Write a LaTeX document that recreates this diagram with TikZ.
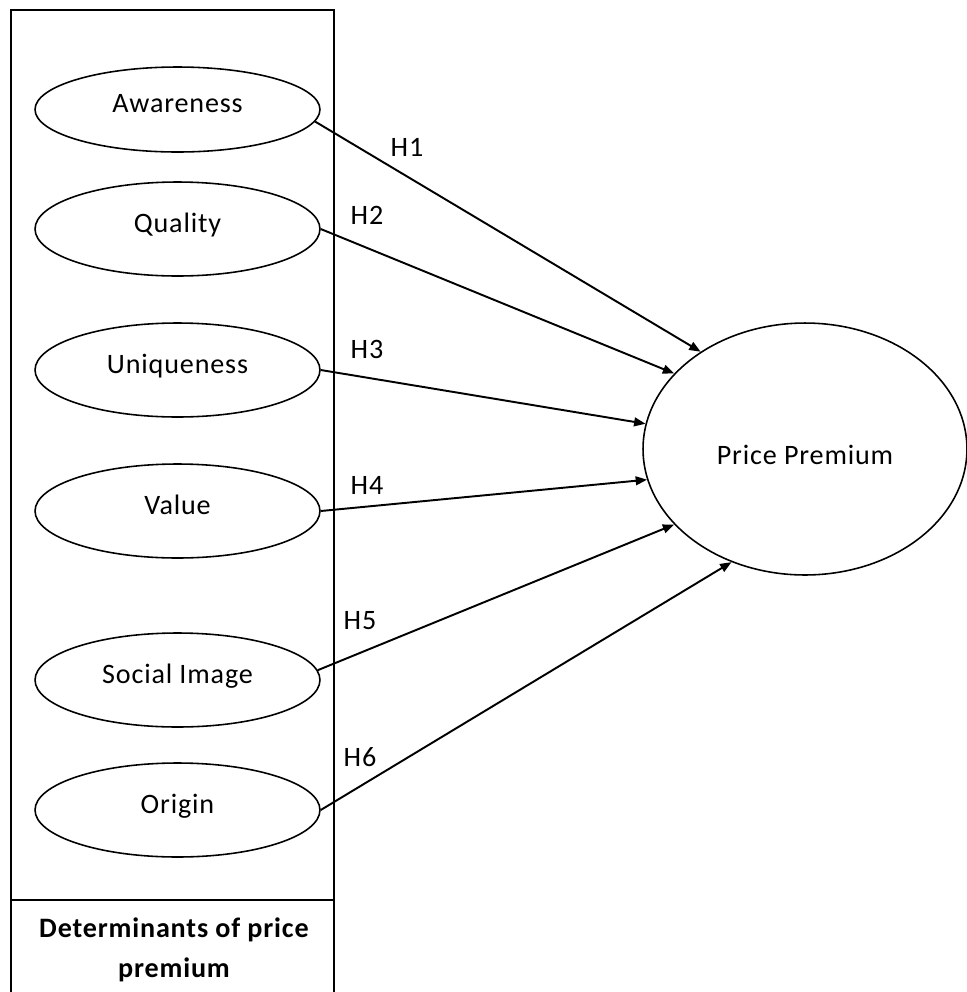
\documentclass[tikz,border=0pt]{standalone}
\usepackage{fontspec}
\setmainfont{Carlito}[LetterSpace=3]
\usetikzlibrary{arrows.meta, positioning, shapes.geometric}
\tikzset{
    factorNode/.style={draw, ellipse, line width=0.9pt, inner sep=0pt,
        minimum width=5.7cm, minimum height=1.88cm,
        text height=0.3cm, text depth=0.18cm},
    outcomeNode/.style={draw, ellipse, line width=0.9pt, inner sep=0pt,
        minimum width=6.48cm, minimum height=5.04cm,
        text height=0.6cm, text depth=0cm},
    pathArrow/.style={line width=1.1pt, -{Triangle[length=6.5pt, width=5pt]}},
    hypLabel/.style={inner sep=0pt},
    boxLine/.style={line width=1.1pt},
}

\begin{document}
\begin{tikzpicture}[x=0.02cm, y=-0.02cm, font=\fontsize{16}{23}\selectfont]
    \useasboundingbox (0,0) rectangle (967,992);

    % DETERMINANTS BOX
    \draw[boxLine] (11,992) -- (11,10) -- (334,10) -- (334,992);
    \draw[boxLine] (11,900) -- (334,900);
    \node[align=center, font=\fontsize{16}{23}\selectfont\bfseries] (boxTitle) at (174,950)
        {Determinants of price\\premium};

    % DETERMINANTS
    \node[factorNode, minimum height=1.7cm] (aware) at (177.5,109.5) {Awareness};
    \node[factorNode] (quality) at (177.5,229) {Quality};
    \node[factorNode] (unique) at (177.5,370) {Uniqueness};
    \node[factorNode] (value) at (177.5,511) {Value};
    \node[factorNode] (social) at (177.5,680) {Social Image};
    \node[factorNode] (origin) at (177.5,810) {Origin};

    % OUTCOME
    \node[outcomeNode] (price) at (805,449) {Price Premium};

    % HYPOTHESES
    \draw[pathArrow] (aware.-5) -- (price.137.6);
    \draw[pathArrow] (quality.east) -- (price.150.8);
    \draw[pathArrow] (unique.east) -- (price.171.7);
    \draw[pathArrow] (value.east) -- (price.191);
    \draw[pathArrow] (social.4) -- (price.210);
    \draw[pathArrow] (origin.east) -- (price.237);

    \node[hypLabel] (h1) at (407,147) {H1};
    \node[hypLabel] (h2) at (367,215) {H2};
    \node[hypLabel] (h3) at (367,349) {H3};
    \node[hypLabel] (h4) at (367,485) {H4};
    \node[hypLabel] (h5) at (360,621) {H5};
    \node[hypLabel] (h6) at (360,757) {H6};

\end{tikzpicture}
\end{document}
